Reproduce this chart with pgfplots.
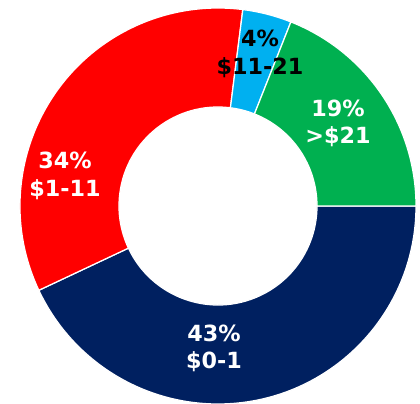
\documentclass[border=0pt]{standalone}
\usepackage{pgfplots}
\pgfplotsset{compat=1.18}
\usepackage{fontspec}
\setmainfont{DejaVu Sans}
\definecolor{cNavy}{HTML}{002060}
\definecolor{cRed}{HTML}{FF0000}
\definecolor{cLBlue}{HTML}{00B0F0}
\definecolor{cGreen}{HTML}{00B050}
\begin{document}
\begin{tikzpicture}
\begin{axis}[
  name=pie,
  x=5cm, y=5cm,
  xmin=-1.101, xmax=1.0202,
  ymin=-0.995, ymax=1.0404,
  hide axis,
  clip=true,
]
% shares in percent, drawn clockwise from 3 o'clock: 43, 34, 4, 19
\fill[cNavy, draw=white, line width=0.9pt]
  (axis cs:{cos(0)},{sin(0)}) arc[start angle=0, end angle={-3.6*43}, radius=5cm]
  -- (axis cs:{0.5*cos(-3.6*43)},{0.5*sin(-3.6*43)}) arc[start angle={-3.6*43}, end angle=0, radius=2.5cm] -- cycle;
\fill[cRed, draw=white, line width=0.9pt]
  (axis cs:{cos(-3.6*43)},{sin(-3.6*43)}) arc[start angle={-3.6*43}, end angle={-3.6*(43+34)}, radius=5cm]
  -- (axis cs:{0.5*cos(-3.6*(43+34))},{0.5*sin(-3.6*(43+34))}) arc[start angle={-3.6*(43+34)}, end angle={-3.6*43}, radius=2.5cm] -- cycle;
\fill[cLBlue, draw=white, line width=0.9pt]
  (axis cs:{cos(-3.6*77)},{sin(-3.6*77)}) arc[start angle={-3.6*77}, end angle={-3.6*(77+4)}, radius=5cm]
  -- (axis cs:{0.5*cos(-3.6*(77+4))},{0.5*sin(-3.6*(77+4))}) arc[start angle={-3.6*(77+4)}, end angle={-3.6*77}, radius=2.5cm] -- cycle;
\fill[cGreen, draw=white, line width=0.9pt]
  (axis cs:{cos(-3.6*81)},{sin(-3.6*81)}) arc[start angle={-3.6*81}, end angle={-3.6*(81+19)}, radius=5cm]
  -- (axis cs:{0.5*cos(-3.6*(81+19))},{0.5*sin(-3.6*(81+19))}) arc[start angle={-3.6*(81+19)}, end angle={-3.6*81}, radius=2.5cm] -- cycle;
\tikzset{lab/.style={font=\bfseries\fontsize{16}{19.5}\selectfont, align=center, inner sep=0pt}}
\node[lab, white] at (axis cs:-0.02,-0.72) {43\%\\\$0-1};
\node[lab, white] at (axis cs:-0.773,0.152) {34\%\\\$1-11};
\node[lab, black] at (axis cs:0.212,0.768) {4\%\\\$11-21};
\node[lab, white] at (axis cs:0.606,0.419) {19\%\\>\$21};
\end{axis}
\pgfresetboundingbox
\path[use as bounding box] (pie.south west) rectangle (pie.north east);
\end{tikzpicture}
\end{document}
